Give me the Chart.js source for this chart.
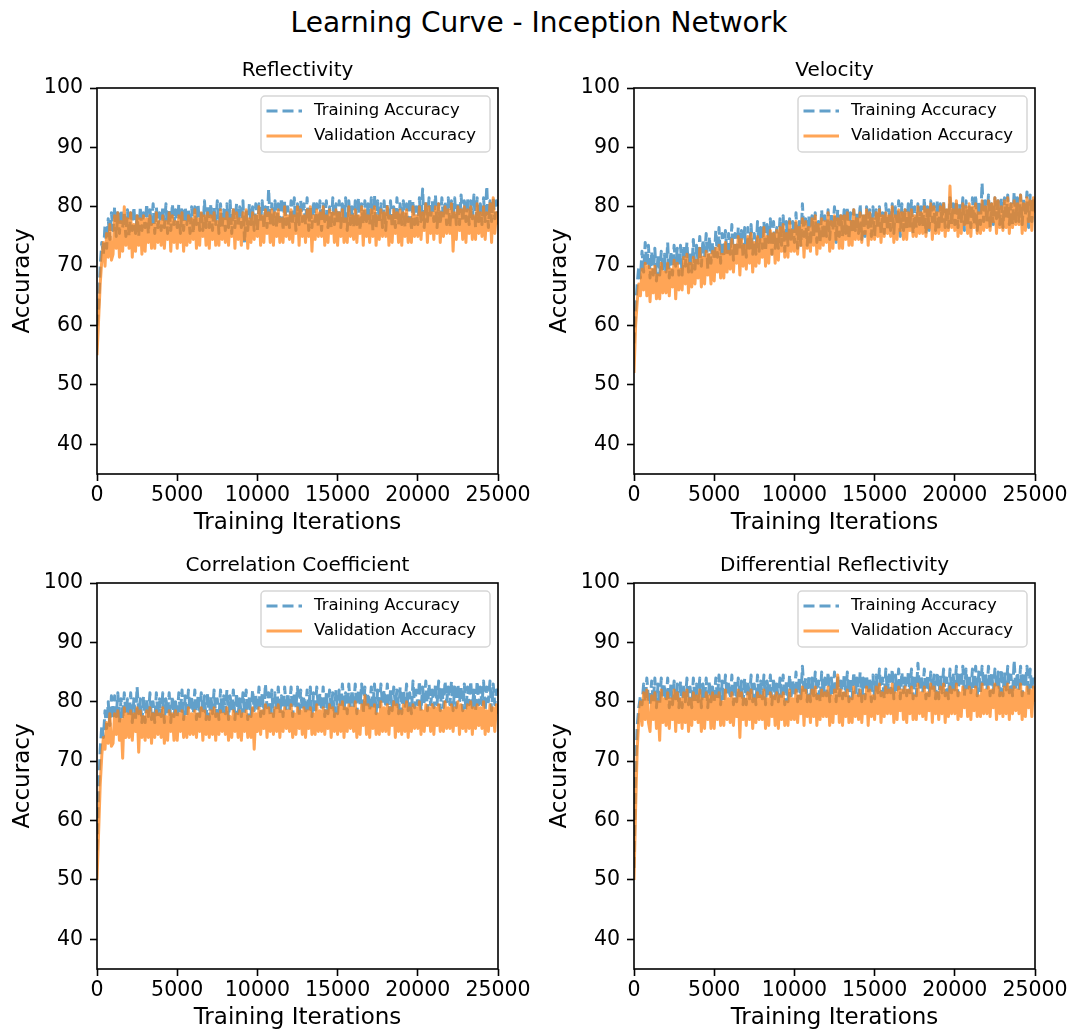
<!DOCTYPE html>
<html>
<head>
<meta charset="utf-8">
<style>
  body { margin: 0; width: 1078px; height: 1034px; overflow: hidden; background: #fff; font-family: 'DejaVu Sans', sans-serif; }
  #suptitle { position: absolute; left: 0; top: 9px; width: 1078px; text-align: center; font-size: 28px; line-height: 28px; color: #000; }
  .panel { position: absolute; width: 540px; height: 540px; }
</style>
</head>
<body>
<div id="suptitle">Learning Curve - Inception Network</div>
<canvas id="c0" class="panel" width="540" height="540" style="left:0;top:0"></canvas>
<canvas id="c1" class="panel" width="540" height="540" style="left:537px;top:0"></canvas>
<canvas id="c2" class="panel" width="540" height="540" style="left:0;top:495px"></canvas>
<canvas id="c3" class="panel" width="540" height="540" style="left:537px;top:495px"></canvas>

<script src="https://cdn.jsdelivr.net/npm/chart.js"></script>
<script>
// one accuracy sample every 100 training iterations
const ITER_STEP = 100;
const xTicks = [0, 5000, 10000, 15000, 20000, 25000];
const yTicks = [40, 50, 60, 70, 80, 90, 100];
const panelTitles = ['Reflectivity', 'Velocity', 'Correlation Coefficient', 'Differential Reflectivity'];
const seriesLabels = ['Training Accuracy', 'Validation Accuracy'];

const refTrain = [
  60, 63, 70, 74, 72, 77, 73, 78, 74.5, 79,
  76, 80, 75, 79, 75.5, 79.5, 76.5, 79, 75, 79.5,
  75, 79, 76, 80, 75.5, 78.5, 75, 80, 76, 79,
  76.5, 80.5, 75.5, 79.5, 77, 80.5, 75.5, 80, 76.5, 79,
  76, 80, 76.5, 80.5, 75.5, 79.5, 76, 80.5, 77, 79.5,
  76.5, 80.5, 75.5, 79.5, 76, 80, 77, 79.5, 75.5, 80,
  75.5, 80, 77, 80.5, 76, 79.5, 76, 81, 76.5, 80,
  76.5, 80.5, 76, 80, 77, 81, 75.5, 80.5, 76.5, 79.5,
  76, 80.5, 76.5, 81, 75.5, 80, 76.5, 80.5, 77, 80,
  76.5, 81, 74, 79.5, 76, 80.5, 77, 80, 76, 80.5,
  76, 80.5, 77.5, 81, 76.5, 80, 76.5, 83, 77, 80.5,
  77, 81, 76.5, 80.5, 77.5, 81.5, 76, 81, 77, 80,
  76.5, 81, 77, 81.5, 76, 80.5, 77, 81, 77.5, 80.5,
  77, 81.5, 76, 80, 76.5, 81, 77.5, 80.5, 76.5, 81,
  76, 80.5, 77.5, 81, 76.5, 80, 76.5, 81.5, 77, 80.5,
  77, 81, 76.5, 80.5, 77.5, 81.5, 76, 81, 77, 80,
  76.5, 81, 77, 81.5, 76, 80.5, 77, 81, 77.5, 80.5,
  77, 81.5, 76, 82, 76.5, 81, 77.5, 80.5, 76.5, 81,
  76, 80.5, 77.5, 81, 76.5, 80, 76.5, 81.5, 77, 80.5,
  77, 81, 76.5, 80.5, 77.5, 81.5, 76, 81, 77, 80,
  77, 81.5, 77.5, 83, 76.5, 81, 77.5, 81.5, 78, 81,
  77.5, 82, 76.5, 80.5, 77, 81.5, 78, 81, 77, 81.5,
  76.5, 81, 78, 81.5, 77, 80.5, 77, 82, 77.5, 81,
  77.5, 81.5, 77, 81, 78, 82, 76.5, 81.5, 77.5, 80.5,
  77, 81.5, 77.5, 83.5, 76.5, 81, 77.5, 81.5, 78, 81,
  79
];
const refVal = [
  55, 61, 67, 71, 74, 70, 75.5, 71.5, 77, 71,
  72, 78.5, 73, 79, 71.5, 77.5, 72.5, 80, 73.5, 78,
  73, 79, 71.5, 77, 72.5, 78.5, 73.5, 78, 72, 78.5,
  72.5, 78, 74, 78.5, 73, 77, 73, 79, 74, 77.5,
  73.5, 78.5, 73, 77.5, 74.5, 79, 72.5, 78.5, 74, 77.5,
  73, 78.5, 74, 79, 72.5, 77.5, 73.5, 78.5, 74, 78,
  74.5, 79.5, 73, 78, 73.5, 79, 75, 78.5, 73.5, 79,
  73, 78.5, 74.5, 79, 73.5, 77.5, 73.5, 79.5, 74.5, 78,
  74, 79, 73.5, 78, 75, 79.5, 73, 79, 74.5, 78,
  73.5, 79, 74.5, 79.5, 73, 78, 74, 79, 74.5, 78.5,
  75, 80, 73.5, 78.5, 74, 79.5, 75.5, 79, 74, 79.5,
  73.5, 79, 75, 79.5, 74, 78, 74, 80, 75, 78.5,
  74.5, 79.5, 74, 78.5, 75.5, 80, 73.5, 79.5, 75, 78.5,
  74, 79.5, 75, 80, 72.5, 78.5, 74.5, 79.5, 75, 79,
  75, 80, 73.5, 78.5, 74, 79.5, 75.5, 79, 74, 79.5,
  73.5, 79, 75, 79.5, 74, 78, 74, 80, 75, 78.5,
  74.5, 79.5, 74, 78.5, 75.5, 80, 73.5, 79.5, 75, 78.5,
  74, 79.5, 75, 80, 73.5, 78.5, 74.5, 79.5, 75, 79,
  75, 80, 73.5, 78.5, 74, 79.5, 75.5, 79, 74, 79.5,
  73.5, 79, 75, 79.5, 74, 78, 74, 80, 75, 78.5,
  75, 80, 74.5, 79, 76, 80.5, 74, 80, 75.5, 79,
  74.5, 80, 75.5, 80.5, 74, 79, 75, 80, 75.5, 79.5,
  75.5, 80.5, 72.5, 79, 74.5, 80, 76, 79.5, 74.5, 80,
  74, 79.5, 75.5, 80, 74.5, 78.5, 74.5, 80.5, 75.5, 79,
  75, 80, 74.5, 79, 76, 80.5, 74, 81.5, 75.5, 79,
  77
];

const velTrain = [
  57, 63, 67, 70, 68, 72.5, 69, 74, 70, 73.5,
  68, 72.5, 68.5, 73, 67.5, 72, 68.5, 72.5, 69, 72,
  69, 74, 68, 72.5, 68.5, 73.5, 70, 73, 68.5, 73.5,
  68.5, 73.5, 70, 74, 69, 72.5, 69, 74.5, 69.5, 73.5,
  70.5, 75, 70, 74.5, 71.5, 75.5, 69.5, 75, 70.5, 74,
  71, 76, 71.5, 76.5, 70.5, 75.5, 71.5, 76, 72, 75.5,
  72, 77, 71, 75.5, 71.5, 76.5, 73, 76, 71.5, 76.5,
  71.5, 76.5, 73, 77, 72, 75.5, 72, 77.5, 72.5, 76.5,
  73, 77.5, 72.5, 77, 74, 78, 72, 77.5, 73, 76.5,
  73, 78, 73.5, 78.5, 72.5, 77.5, 73.5, 78, 74, 77.5,
  74, 79, 73, 77.5, 73.5, 80.5, 75, 78, 73.5, 78.5,
  73.5, 78.5, 75, 79, 74, 77.5, 74, 79.5, 74.5, 78.5,
  75, 79.5, 74.5, 79, 76, 80, 74, 79.5, 75, 78.5,
  75, 79.5, 75.5, 80, 74.5, 79, 75.5, 79.5, 76, 79,
  75.5, 80.5, 74.5, 79, 75, 80, 76.5, 79.5, 75, 80,
  75, 79.5, 76.5, 80, 75.5, 79, 75.5, 80.5, 76, 79.5,
  76, 80.5, 75.5, 80, 77, 81, 75, 80.5, 76, 79.5,
  76, 80.5, 76.5, 81, 75.5, 80, 76.5, 80.5, 77, 80,
  76.5, 81.5, 75.5, 80, 76, 81, 77.5, 80.5, 76, 81,
  76, 80.5, 77.5, 81, 76.5, 80, 76.5, 81.5, 77, 80.5,
  77, 81, 76.5, 80.5, 77.5, 81.5, 76, 81, 77, 80,
  76.5, 81.5, 77, 82, 76, 81, 77, 84, 77.5, 81,
  77.5, 82, 76.5, 80.5, 77, 81.5, 78, 81, 77, 81.5,
  76.5, 81.5, 78, 82, 77, 80.5, 77, 82.5, 77.5, 81.5,
  77.5, 82, 77, 81.5, 78.5, 82.5, 76.5, 82, 77.5, 81,
  80.5
];
const velVal = [
  52, 60, 64, 67, 65, 69.5, 66, 70.5, 65, 70,
  64, 69.5, 65.5, 70, 64.5, 68.5, 64.5, 70.5, 65.5, 69,
  65.5, 70.5, 65, 69.5, 66.5, 71, 64.5, 70.5, 66, 69.5,
  66, 71.5, 67, 72, 65.5, 70.5, 66.5, 71.5, 67, 71,
  68, 73, 66.5, 71.5, 67, 72.5, 68.5, 72, 67, 72.5,
  67.5, 73, 69, 73.5, 68, 72, 68, 74, 69, 72.5,
  69.5, 74.5, 69, 73.5, 70.5, 75, 68.5, 74.5, 70, 73.5,
  69.5, 75, 70.5, 75.5, 69, 74, 70, 75, 70.5, 74.5,
  71.5, 76.5, 70, 75, 70.5, 76, 72, 75.5, 70.5, 76,
  71, 76.5, 72.5, 77, 71.5, 75.5, 71.5, 77.5, 72.5, 76,
  72.5, 77.5, 72, 76.5, 73.5, 78, 71.5, 77.5, 73, 76.5,
  72.5, 78, 73.5, 78.5, 72, 77, 73, 78, 73.5, 77.5,
  74, 79, 72.5, 77.5, 73, 78.5, 74.5, 78, 73, 78.5,
  73, 78.5, 74.5, 79, 73.5, 77.5, 73.5, 79.5, 74.5, 78,
  74.5, 79, 74, 78.5, 75.5, 79.5, 73.5, 79, 74.5, 78,
  74.5, 79, 75, 79.5, 74, 78.5, 75, 79, 75.5, 78.5,
  75, 80, 74, 78.5, 74.5, 79.5, 76, 79, 74.5, 79.5,
  74.5, 79, 76, 79.5, 75, 78.5, 75, 80, 75.5, 79,
  75.5, 80, 75, 79.5, 76.5, 80.5, 74.5, 80, 75.5, 79,
  75.5, 80, 76, 80.5, 75, 79.5, 76, 83.5, 76.5, 79.5,
  76, 81, 75, 79.5, 75.5, 80.5, 77, 80, 75.5, 80.5,
  75, 80, 76.5, 80.5, 75.5, 79, 75.5, 81, 76, 80,
  76.5, 81, 76, 80.5, 77.5, 81.5, 75.5, 81, 76.5, 80,
  76, 81, 76.5, 81.5, 75.5, 80.5, 76.5, 81, 77, 80.5,
  77, 82, 75.5, 80.5, 76, 81.5, 77.5, 81, 76, 81.5,
  79
];

const corrTrain = [
  55, 65, 72, 76, 74, 78.5, 75.5, 80, 76, 81,
  77, 81, 77.5, 81.5, 76.5, 80.5, 77, 81.5, 78, 80.5,
  77.5, 81.5, 76.5, 80.5, 77, 82.5, 78, 80.5, 76.5, 81,
  76.5, 80.5, 77.5, 81.5, 77, 80, 76.5, 81.5, 77.5, 80.5,
  77.5, 81.5, 76.5, 80.5, 78, 81.5, 76.5, 81, 77.5, 80,
  77.5, 81.5, 78, 82, 77, 81, 77.5, 82, 78.5, 81,
  78, 82, 77, 81, 77.5, 81.5, 78.5, 81, 77, 81.5,
  77, 81, 78, 82, 77.5, 80.5, 77, 82, 78, 81,
  78, 82, 77, 81, 78.5, 82, 77, 81.5, 78, 80.5,
  77.5, 81.5, 78, 82, 77, 81, 77.5, 82, 78.5, 81,
  78.5, 82.5, 77.5, 81.5, 78, 83, 79, 81.5, 77.5, 82,
  77.5, 81.5, 78.5, 82.5, 78, 81, 77.5, 82.5, 78.5, 81.5,
  78.5, 82.5, 77.5, 81.5, 79, 82.5, 77.5, 82, 78.5, 81,
  78, 82, 78.5, 82.5, 77.5, 81.5, 78, 82.5, 79, 81.5,
  78.5, 82.5, 77.5, 81.5, 78, 82, 79, 81.5, 77.5, 82,
  78, 82, 79, 83, 78.5, 81.5, 78, 83, 79, 82,
  79, 83, 78, 82, 79.5, 83, 78, 82.5, 79, 81.5,
  78.5, 82.5, 79, 83, 78, 82, 78.5, 83, 79.5, 82,
  79, 83, 78, 82, 78.5, 82.5, 79.5, 82, 78, 82.5,
  78, 82, 79, 83, 78.5, 81.5, 78, 83.5, 79, 82,
  79.5, 83.5, 78.5, 82.5, 80, 83.5, 78.5, 83, 79.5, 82,
  79, 83, 79.5, 83.5, 78.5, 82.5, 79, 83.5, 80, 82.5,
  79.5, 83.5, 78.5, 82.5, 79, 83, 80, 82.5, 78.5, 83,
  78.5, 82.5, 79.5, 83.5, 79, 82, 78.5, 83.5, 79.5, 82.5,
  79.5, 83.5, 78.5, 82.5, 80, 83.5, 78.5, 83, 79.5, 82,
  82
];
const corrVal = [
  50, 58, 66, 71, 74, 72, 76.5, 73, 78, 72.5,
  73, 78, 74.5, 78.5, 73.5, 77, 70.5, 79, 74, 78,
  74, 78.5, 73.5, 78, 75, 79, 71.5, 78.5, 74, 77.5,
  73.5, 78.5, 74, 79, 73, 78, 74, 78.5, 74.5, 78,
  74, 79, 73, 77.5, 73.5, 78.5, 75, 78, 73.5, 78.5,
  73.5, 78, 75, 78.5, 74, 77.5, 74, 79, 74.5, 78,
  74.5, 78.5, 74, 78, 75, 79, 73.5, 78.5, 74.5, 77.5,
  74, 78.5, 74.5, 79, 73.5, 78, 74.5, 78.5, 75, 78,
  74.5, 79, 73.5, 77.5, 74, 78.5, 75, 78, 74, 78.5,
  73.5, 78, 75, 78.5, 74, 77.5, 74, 79, 72, 78,
  75, 79, 74.5, 78.5, 75.5, 79.5, 74, 79, 75, 78,
  74.5, 79, 75, 79.5, 74, 78.5, 75, 79, 75.5, 78.5,
  75, 79.5, 74, 78, 74.5, 79, 75.5, 78.5, 74.5, 79,
  74, 78.5, 75.5, 79, 74.5, 78, 74.5, 79.5, 75, 78.5,
  75, 79, 74.5, 78.5, 75.5, 79.5, 74, 79, 75, 78,
  74.5, 79.5, 75, 80, 74, 79, 75, 79.5, 75.5, 79,
  75, 80, 74, 78.5, 74.5, 79.5, 76, 81, 74.5, 79.5,
  74, 79, 75.5, 79.5, 74.5, 78, 74.5, 80, 75, 79,
  75, 79.5, 74.5, 79, 76, 80, 74, 79.5, 75, 78.5,
  74.5, 79.5, 75, 80, 74, 79, 75, 79.5, 75.5, 79,
  75.5, 80, 74.5, 78.5, 75, 79.5, 76, 79, 75, 79.5,
  74.5, 79, 76, 79.5, 75, 78.5, 75, 80, 75.5, 79,
  75.5, 79.5, 75, 79, 76, 80, 74.5, 79.5, 75.5, 78.5,
  75, 79.5, 75.5, 80, 74.5, 79, 75.5, 79.5, 76, 79,
  75.5, 80, 74.5, 78.5, 75, 79.5, 76, 79, 75, 79.5,
  78
];

const zdrTrain = [
  52, 68, 76, 79, 81, 79.5, 83, 80, 84, 80.5,
  79.5, 83.5, 80, 84, 79, 83, 79.5, 84, 80.5, 83,
  80, 84, 79, 83, 79.5, 83.5, 80.5, 83, 79, 83.5,
  79, 83, 80, 84, 79.5, 82.5, 79, 84, 80, 83,
  80, 84, 79, 83, 80.5, 84, 79, 83.5, 80, 82.5,
  80, 84, 80.5, 84.5, 79.5, 83.5, 80, 84.5, 81, 83.5,
  80.5, 84.5, 79.5, 83.5, 80, 84, 81, 83.5, 79.5, 84,
  79.5, 83.5, 80.5, 84.5, 80, 83, 79.5, 84.5, 80.5, 83.5,
  80.5, 84.5, 79.5, 83.5, 81, 84.5, 79.5, 84, 80.5, 83,
  80, 84, 80.5, 84.5, 79.5, 83.5, 80, 84.5, 81, 83.5,
  81, 85, 80, 84, 80.5, 86, 81.5, 84, 80, 84.5,
  80, 84, 81, 85, 80.5, 83.5, 80, 85, 81, 84,
  81, 85, 80, 84, 81.5, 85, 80, 84.5, 81, 83.5,
  80.5, 84.5, 81, 85, 80, 84, 80.5, 85, 81.5, 84,
  81, 85, 80, 84, 80.5, 84.5, 81.5, 84, 80, 84.5,
  80.5, 84.5, 81.5, 85.5, 81, 84, 80.5, 85.5, 81.5, 84.5,
  81.5, 85.5, 80.5, 84.5, 82, 85.5, 80.5, 85, 81.5, 84,
  81, 85, 81.5, 85.5, 80.5, 84.5, 81, 86.5, 82, 84.5,
  81.5, 85.5, 80.5, 84.5, 81, 85, 82, 84.5, 80.5, 85,
  80.5, 84.5, 81.5, 85.5, 81, 84, 80.5, 85.5, 81.5, 84.5,
  82, 86, 81, 85, 82.5, 86, 81, 85.5, 82, 84.5,
  81.5, 85.5, 82, 86, 81, 85, 81.5, 86, 82.5, 85,
  82, 86, 81, 85, 81.5, 85.5, 82.5, 85, 81, 85.5,
  81, 85, 82, 86, 81.5, 84.5, 81, 87, 82, 85,
  82, 86, 81, 85, 82.5, 86, 81, 85.5, 82, 84.5,
  84
];
const zdrVal = [
  50, 62, 72, 77, 80, 76, 81.5, 77, 82, 76.5,
  75, 81, 77, 81.5, 75.5, 80, 73.5, 82, 76.5, 80.5,
  76, 81.5, 75.5, 80.5, 77, 82, 75, 81.5, 76.5, 80.5,
  75.5, 81.5, 76.5, 82, 75, 80.5, 76, 81.5, 77, 81,
  76.5, 82, 75, 80.5, 75.5, 81.5, 77, 81, 75.5, 81.5,
  75.5, 81, 77, 81.5, 76, 80, 76, 82, 77, 80.5,
  76.5, 81.5, 76, 80.5, 77.5, 82, 74, 81.5, 77, 80.5,
  76, 81.5, 77, 82, 75.5, 80.5, 76.5, 81.5, 77, 81,
  77, 82, 75.5, 80.5, 76, 81.5, 77.5, 81, 76, 81.5,
  75.5, 81, 77, 81.5, 76, 80, 76, 82, 77, 80.5,
  77, 82, 76.5, 81, 78, 82.5, 76, 82, 77.5, 81,
  76.5, 82, 77.5, 82.5, 76, 81, 77, 82, 77.5, 81.5,
  77.5, 82.5, 76, 81, 76.5, 82, 78, 84.5, 76.5, 82,
  76, 81.5, 77.5, 82, 76.5, 80.5, 76.5, 82.5, 77.5, 81,
  77, 82, 76.5, 81, 78, 82.5, 76, 82, 77.5, 81,
  77, 82.5, 78, 83, 76.5, 81.5, 77.5, 82.5, 78, 82,
  78, 83, 76.5, 81.5, 77, 82.5, 78.5, 82, 77, 82.5,
  76.5, 82, 78, 82.5, 77, 81, 77, 83, 78, 81.5,
  77.5, 82.5, 77, 81.5, 78.5, 83, 76.5, 82.5, 78, 81.5,
  77, 82.5, 78, 83, 76.5, 81.5, 77.5, 82.5, 78, 82,
  78, 83, 77, 81.5, 77.5, 82.5, 79, 82, 77.5, 82.5,
  77, 82, 78.5, 82.5, 77.5, 81, 77.5, 83, 78, 82,
  78, 82.5, 77.5, 82, 79, 83, 77, 82.5, 78, 81.5,
  77.5, 82.5, 78, 83, 77, 82, 78, 82.5, 78.5, 82,
  78, 83, 77, 81.5, 77.5, 82.5, 79, 82, 77.5, 82.5,
  80
];

const panelSeries = [
  [refTrain, refVal],
  [velTrain, velVal],
  [corrTrain, corrVal],
  [zdrTrain, zdrVal]
];

const FONT = "'DejaVu Sans', sans-serif";
const trainColor = 'rgba(31,119,180,0.7)';
const valColor = 'rgba(255,127,14,0.7)';

function toPoints(values) {
  return values.map((y, i) => ({ x: i * ITER_STEP, y: y }));
}

// axes frame, subplot title and the legend box in the upper right corner
const panelDecor = {
  id: 'panelDecor',
  afterDatasetsDraw(chart, args, opts) {
    const ctx = chart.ctx;
    const a = chart.chartArea;
    ctx.save();
    ctx.setLineDash([]);
    ctx.strokeStyle = '#000';
    ctx.lineWidth = 1.6;
    ctx.strokeRect(a.left, a.top, a.right - a.left, a.bottom - a.top);

    ctx.fillStyle = '#000';
    ctx.font = '20px ' + FONT;
    ctx.textAlign = 'center';
    ctx.textBaseline = 'middle';
    ctx.fillText(opts.title, (a.left + a.right) / 2, a.top - 17);

    const w = 229, h = 56, r = 4;
    const bx = a.right - 8 - w, by = a.top + 8;
    ctx.beginPath();
    ctx.moveTo(bx + r, by);
    ctx.lineTo(bx + w - r, by);
    ctx.arcTo(bx + w, by, bx + w, by + r, r);
    ctx.lineTo(bx + w, by + h - r);
    ctx.arcTo(bx + w, by + h, bx + w - r, by + h, r);
    ctx.lineTo(bx + r, by + h);
    ctx.arcTo(bx, by + h, bx, by + h - r, r);
    ctx.lineTo(bx, by + r);
    ctx.arcTo(bx, by, bx + r, by, r);
    ctx.closePath();
    ctx.fillStyle = 'rgba(255,255,255,0.8)';
    ctx.fill();
    ctx.strokeStyle = '#d6d6d6';
    ctx.lineWidth = 1.5;
    ctx.stroke();

    ctx.textAlign = 'left';
    ctx.font = '16.5px ' + FONT;
    chart.data.datasets.forEach((ds, i) => {
      const y = by + 15 + i * 25;
      ctx.beginPath();
      ctx.setLineDash(ds.borderDash || []);
      ctx.strokeStyle = ds.borderColor;
      ctx.lineWidth = ds.borderWidth;
      ctx.moveTo(bx + 5.5, y);
      ctx.lineTo(bx + 41, y);
      ctx.stroke();
      ctx.setLineDash([]);
      ctx.fillStyle = '#000';
      ctx.fillText(ds.label, bx + 53, y);
    });
    ctx.restore();
  }
};

const tickFont = { family: FONT, size: 20.5 };
const labelFont = { family: FONT, size: 23 };

panelTitles.forEach((title, p) => {
  const [train, val] = panelSeries[p];
  new Chart(document.getElementById('c' + p), {
    type: 'line',
    data: {
      datasets: [
        {
          label: seriesLabels[0],
          data: toPoints(train),
          borderColor: trainColor,
          borderWidth: 3,
          borderDash: [11, 5],
          borderJoinStyle: 'round',
          pointRadius: 0,
          tension: 0,
          order: 2
        },
        {
          label: seriesLabels[1],
          data: toPoints(val),
          borderColor: valColor,
          borderWidth: 3,
          borderJoinStyle: 'round',
          pointRadius: 0,
          tension: 0,
          order: 1
        }
      ]
    },
    options: {
      responsive: false,
      animation: false,
      devicePixelRatio: 1,
      events: [],
      layout: { padding: { left: 0, top: 88, right: 42, bottom: 0 } },
      plugins: {
        legend: { display: false },
        tooltip: { enabled: false },
        title: { display: false },
        panelDecor: { title: title }
      },
      scales: {
        x: {
          type: 'linear',
          min: 0,
          max: 25000,
          afterBuildTicks: s => { s.ticks = xTicks.map(v => ({ value: v })); },
          afterFit: s => { s.height = 66; },
          ticks: { font: tickFont, color: '#000', padding: 2, maxRotation: 0, autoSkip: false, callback: v => String(v) },
          grid: { drawOnChartArea: false, tickLength: 7, tickWidth: 1.6, tickColor: '#000' },
          border: { display: false },
          title: { display: true, text: 'Training Iterations', font: labelFont, color: '#000', padding: { top: 0, bottom: 3 } }
        },
        y: {
          type: 'linear',
          min: 35,
          max: 100,
          afterBuildTicks: s => { s.ticks = yTicks.map(v => ({ value: v })); },
          afterFit: s => { s.width = 97; },
          ticks: { font: tickFont, color: '#000', padding: 7, autoSkip: false, callback: v => String(v) },
          grid: { drawOnChartArea: false, tickLength: 7, tickWidth: 1.6, tickColor: '#000' },
          border: { display: false },
          title: { display: true, text: 'Accuracy', font: labelFont, color: '#000', padding: { top: 9, bottom: 0 } }
        }
      }
    },
    plugins: [panelDecor]
  });
});
</script>
</body>
</html>
